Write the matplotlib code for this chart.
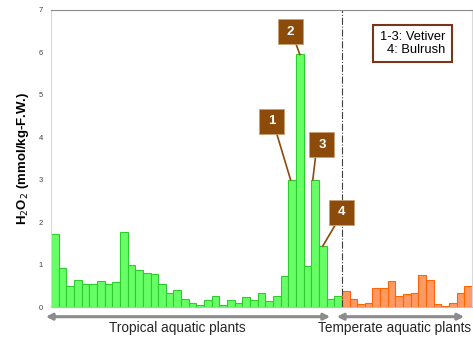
import numpy as np
import matplotlib
matplotlib.use("Agg")
import matplotlib.pyplot as plt
from matplotlib.patches import Rectangle, FancyArrowPatch

plt.rcParams['font.family'] = ['Liberation Sans', 'DejaVu Sans']

# H2O2 content of each plant sample (mmol/kg-F.W.)
tropical = [1.72, 0.92, 0.51, 0.64, 0.54, 0.56, 0.63, 0.54, 0.59, 1.78,
            1.00, 0.88, 0.80, 0.78, 0.56, 0.33, 0.40, 0.19, 0.10, 0.05,
            0.17, 0.26, 0.05, 0.17, 0.11, 0.24, 0.17, 0.33, 0.15, 0.27,
            0.73, 3.00, 5.95, 0.97, 3.00, 1.44, 0.20, 0.27]
temperate = [0.38, 0.20, 0.08, 0.10, 0.45, 0.45, 0.62, 0.26, 0.31, 0.33,
             0.77, 0.64, 0.07, 0.04, 0.09, 0.33, 0.50]
yticks = [0, 1, 2, 3, 4, 5, 6, 7]
# labelled samples: number -> bar index
labels = ["1", "2", "3", "4"]
label_idx = [31, 32, 34, 35]

n_tr = len(tropical)
n_te = len(temperate)
x_tr = np.arange(n_tr)
x_te = np.arange(n_tr, n_tr + n_te)

fig = plt.figure(figsize=(4.73, 3.41), dpi=100)
ax = fig.add_axes([51 / 473, 1 - 307.3 / 341, 421 / 473, 297.5 / 341])

ax.bar(x_tr, tropical, width=1.0, color="#66ff66", edgecolor="#2ecc2e", linewidth=0.8)
ax.bar(x_te, temperate, width=1.0, color="#ff9966", edgecolor="#ff6600", linewidth=0.8)

ax.set_xlim(-0.5, n_tr + n_te - 0.5)
ax.set_ylim(0, 7)
ax.set_yticks(yticks)
ax.set_yticklabels([str(t) for t in yticks], fontsize=5.5, color="#404040")
ax.tick_params(axis="y", length=0, pad=6)
ax.set_xticks([])

for s in ["left", "right"]:
    ax.spines[s].set_color("#d9d9d9")
ax.spines["top"].set_color("#8c8c8c")
ax.spines["bottom"].set_color("#bfbfbf")

ax.set_ylabel("H$_2$O$_2$ (mmol/kg-F.W.)", fontsize=9.5, fontweight="bold", labelpad=5.5)

# separator between tropical and temperate
ax.axvline(n_tr - 0.5, color="#404040", linestyle="-.", linewidth=0.8)

# numbered callouts
all_vals = tropical + temperate
box_w, box_h = 3.26, 0.59
box_centers = [(28.31, 4.38), (30.79, 6.48), (34.9, 3.82), (37.5, 2.24)]
line_start_dx = [0.68, 0.74, -0.85, -0.84]
line_end_dx = [-0.2, 0.0, -0.3, 0.0]
brown = "#8c4b0a"
for lab, idx, (cx, cy), sdx, edx in zip(labels, label_idx, box_centers, line_start_dx, line_end_dx):
    ax.plot([cx + sdx, idx + edx], [cy - box_h / 2, all_vals[idx]], color=brown, linewidth=1.2, zorder=4)
    ax.add_patch(Rectangle((cx - box_w / 2, cy - box_h / 2), box_w, box_h,
                           facecolor=brown, edgecolor="#c8a070", linewidth=0.6, zorder=5))
    ax.text(cx, cy, lab, color="white", fontsize=9.5, fontweight="bold",
            ha="center", va="center", zorder=6)

# legend box
ax.text((412.5 - 51) / 421, 1 - (43.5 - 9.8) / 297.5, "1-3: Vetiver\n4: Bulrush",
        transform=ax.transAxes, fontsize=9.3, ha="center", va="center", multialignment="right",
        linespacing=1.1,
        bbox=dict(boxstyle="square,pad=0.5", facecolor="white", edgecolor="#7a3418", linewidth=1.5))

# region arrows below the axis
arr_y = 1 - 316.7 / 341
for x0, x1 in [(43, 333), (334, 467)]:
    fig.patches.append(FancyArrowPatch((x0 / 473, arr_y), (x1 / 473, arr_y),
                                       transform=fig.transFigure, arrowstyle="<|-|>",
                                       mutation_scale=9, color="#8c8c8c", linewidth=2.2))
fig.text(177 / 473, 1 - 328 / 341, "Tropical aquatic plants", fontsize=9.8,
         ha="center", va="center", color="#262626")
fig.text(395 / 473, 1 - 328 / 341, "Temperate aquatic plants", fontsize=9.8,
         ha="center", va="center", color="#262626")

fig.savefig("out.png", dpi=100)
